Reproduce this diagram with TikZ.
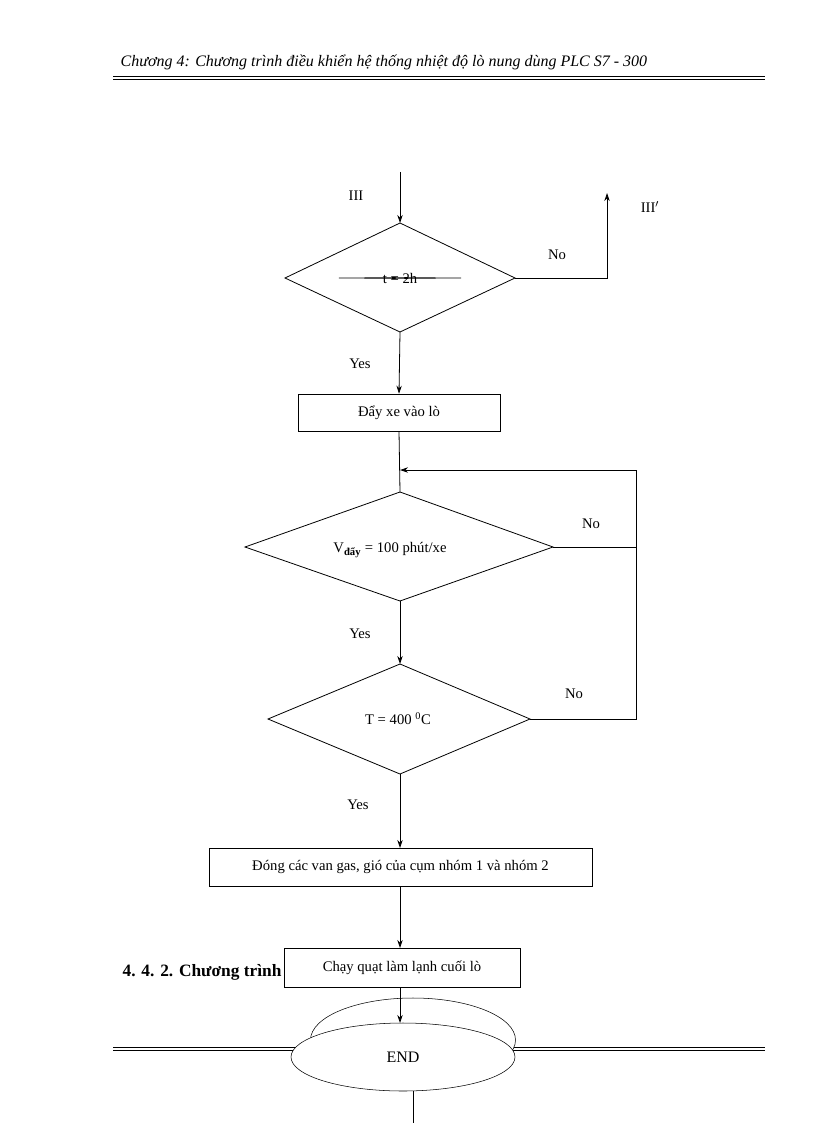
\documentclass[tikz,border=0pt]{standalone}
\usepackage{fontspec}
\setmainfont{Liberation Serif}
\usetikzlibrary{shapes.geometric,arrows.meta}
\begin{document}
\begin{tikzpicture}[x=0.75pt,y=-0.75pt,
  ln/.style={draw=black,line width=0.6pt},
  arr/.style={ln,-{Stealth[length=6pt,width=4pt]}},
  box/.style={draw,fill=white,rectangle,inner sep=0pt,font=\fontsize{11}{13}\selectfont},
  dia/.style={draw,diamond,inner sep=0pt,font=\fontsize{11}{13}\selectfont},
  lbl/.style={font=\fontsize{11}{13}\selectfont}]
\useasboundingbox (0,0) rectangle (816,1123);
\fill[white] (0,0) rectangle (816,1123);
% header
\node[anchor=base west,font=\fontsize{12}{14}\selectfont\itshape] (hdr) at (116,67) {Chương 4: Chương trình điều khiển hệ thống nhiệt độ lò nung dùng PLC S7 - 300};
\draw[line width=0.8pt] (113,76.5) -- (765,76.5);
\draw[line width=0.8pt] (113,79.5) -- (765,79.5);
% footer line
\draw[line width=0.8pt] (113,1047.5) -- (765,1047.5);
\draw[line width=0.8pt] (113,1050.5) -- (765,1050.5);
% heading
\node[anchor=base west,font=\fontsize{13}{15}\selectfont\bfseries] (hd) at (118,976) {4. 4. 2. Chương trình};
% nodes
\node[dia,minimum width=230\pgflinewidth,shape aspect=2.1] (d1) at (400,278) {};
\path (400,278) node[lbl] {t = 2h};
\draw[ln] (285,278) -- (400,223) -- (515,278) -- (400,332) -- cycle;
\coordinate (d1t) at (400,223); \coordinate (d1r) at (515,278); \coordinate (d1b) at (400,332);
\node[box,minimum width=202*0.75pt,minimum height=37*0.75pt] (b1) at (399,412.5) {Đẩy xe vào lò};
\draw[ln] (245,547) -- (400,492) -- (553,547) -- (400,601) -- cycle;
\node[lbl] (t2) at (390,550) {V\textsubscript{\fontsize{8}{9}\selectfont\bfseries đẩy} = 100 phút/xe};
\coordinate (d2t) at (400,492); \coordinate (d2r) at (553,547); \coordinate (d2b) at (400,601);
\draw[ln] (268,719) -- (400,664) -- (530,719) -- (400,774) -- cycle;
\node[lbl] (t3) at (398,719) {T = 400 \textsuperscript{0}C};
\coordinate (d3t) at (400,664); \coordinate (d3r) at (530,719); \coordinate (d3b) at (400,774);
\node[box,minimum width=383*0.75pt,minimum height=38*0.75pt] (b2) at (400.5,867) {Đóng các van gas, gió của cụm nhóm 1 và nhóm 2};
\node[box,minimum width=236*0.75pt,minimum height=39*0.75pt] (b3) at (402,967.5) {Chạy quạt làm lạnh cuối lò};
% ellipses
\node[draw,fill=white,ellipse,minimum width=205*0.75pt,minimum height=84*0.75pt] (e0) at (413,1040) {};
\node[draw,fill=white,ellipse,minimum width=224*0.75pt,minimum height=68*0.75pt,font=\fontsize{12}{14}\selectfont] (end) at (403,1057) {END};
% labels
\node[lbl] (l3) at (356,196) {III};
\node[lbl] (l3p) at (650,207) {III$'$};
\node[lbl] (no1) at (557,255) {No};
\node[lbl] (y1) at (360,364) {Yes};
\node[lbl] (no2) at (591,524) {No};
\node[lbl] (y2) at (360,634) {Yes};
\node[lbl] (no3) at (574,694) {No};
\node[lbl] (y3) at (358,805) {Yes};
% connectors
\coordinate (s0) at (400,172);
\coordinate (c1) at (607,278); \coordinate (c1e) at (607,193);
\coordinate (m) at (400,470); \coordinate (lr) at (636,470);
\coordinate (r2) at (636,547); \coordinate (r3) at (636,719);
\coordinate (eb) at (413,1123);
\draw[arr] (s0) -- (d1t);
\draw[arr] (d1r) -- (c1) -- (c1e);
\draw[arr] (d1b) -- (b1.south |- b1.north);
\draw[ln] (b1.south) -- (d2t);
\draw[arr] (lr) -- (m);
\draw[ln] (d2r) -- (r2);
\draw[ln] (d3r) -- (r3) -- (lr);
\draw[arr] (d2b) -- (d3t);
\draw[arr] (d3b) -- (400,848);
\draw[arr] (400,886) -- (400,948);
\draw[arr] (400,987) -- (400,1023);
\draw[ln] (end.south -| eb) -- (eb);
\end{tikzpicture}
\end{document}
